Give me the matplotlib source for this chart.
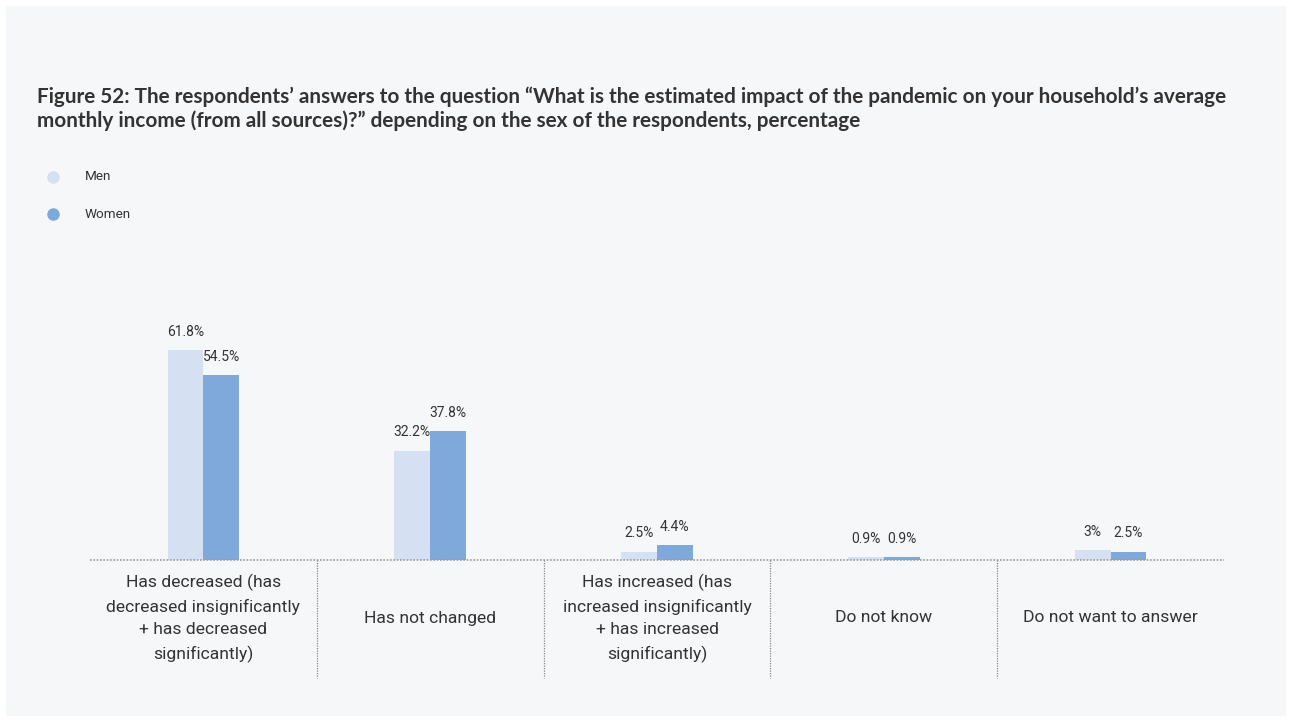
import matplotlib.pyplot as plt
from matplotlib.patches import Rectangle
from matplotlib.lines import Line2D
import matplotlib.transforms as mtransforms

categories = [
    "Has decreased (has\ndecreased insignificantly\n+ has decreased\nsignificantly)",
    "Has not changed",
    "Has increased (has\nincreased insignificantly\n+ has increased\nsignificantly)",
    "Do not know",
    "Do not want to answer",
]
men = [61.8, 32.2, 2.5, 0.9, 3.0]
women = [54.5, 37.8, 4.4, 0.9, 2.5]
men_labels = ["61.8%", "32.2%", "2.5%", "0.9%", "3%"]
women_labels = ["54.5%", "37.8%", "4.4%", "0.9%", "2.5%"]
series_names = ["Men", "Women"]

title_lines = [
    "Figure 52: The respondents\u2019 answers to the question \u201cWhat is the estimated impact of the pandemic on your household\u2019s average",
    "monthly income (from all sources)?\u201d depending on the sex of the respondents, percentage",
]

MEN_C = "#d5e0f2"
WOMEN_C = "#7fa9db"
BG = "#f6f7f9"
TXT = "#333333"
LABEL_FONT = ["Roboto", "DejaVu Sans"]

W, H = 1292, 722
fig = plt.figure(figsize=(W / 100, H / 100), dpi=100)
fig.patch.set_facecolor("white")
fig.add_artist(Rectangle((6 / W, 6 / H), (W - 12) / W, (H - 12) / H,
                         transform=fig.transFigure, facecolor=BG,
                         edgecolor="none", zorder=0))

# title: two lines, first line sized to span the panel width
renderer = fig.canvas.get_renderer()
t1 = fig.text(37 / W, 1 - 97 / H, title_lines[0], ha="left", va="center",
              fontsize=12, fontweight="bold", family=["Lato", "DejaVu Sans"], color=TXT)
w = t1.get_window_extent(renderer).width
fs = 12 * 1185 / w
t1.set_fontsize(fs)
fig.text(37 / W, 1 - 121 / H, title_lines[1], ha="left", va="center",
         fontsize=fs, fontweight="bold", family=["Lato", "DejaVu Sans"], color=TXT)

# legend
for i, (name, col) in enumerate(zip(series_names, [MEN_C, WOMEN_C])):
    y = 1 - (177 + 37 * i) / H
    fig.add_artist(Line2D([53 / W], [y], marker="o", markersize=8,
                          color=col, linestyle="none",
                          transform=fig.transFigure))
    fig.text(85 / W, y, name, ha="left", va="center", fontsize=9.7,
             family=LABEL_FONT, color=TXT)

# chart area
ax_left, ax_right = 90, 1224
base_px = 560
ymax = 70
px_per_unit = 3.40
ax_h = ymax * px_per_unit
ax = fig.add_axes([ax_left / W, (H - base_px) / H, (ax_right - ax_left) / W, ax_h / H])
ax.set_facecolor("none")
n = len(categories)
ax.set_xlim(-0.5, n - 0.5)
ax.set_ylim(0, ymax)
for s in ax.spines.values():
    s.set_visible(False)
ax.set_xticks([])
ax.set_yticks([])

bw = 0.158
xs = list(range(n))
ax.bar([x - bw / 2 for x in xs], men, width=bw, color=MEN_C, zorder=2)
ax.bar([x + bw / 2 for x in xs], women, width=bw, color=WOMEN_C, zorder=2)

for x, v, lab in zip(xs, men, men_labels):
    ax.annotate(lab, (x - bw / 2, v), xytext=(0, 8), textcoords="offset points",
                ha="center", va="bottom", fontsize=10, family=LABEL_FONT, color=TXT)
for x, v, lab in zip(xs, women, women_labels):
    ax.annotate(lab, (x + bw / 2, v), xytext=(0, 8), textcoords="offset points",
                ha="center", va="bottom", fontsize=10, family=LABEL_FONT, color=TXT)

# baseline
ax.plot([-0.5, n - 0.5], [0, 0], color="#9a9a9a", linestyle=(0, (1, 1)),
        linewidth=1.2, zorder=3, clip_on=False)

# category separators
trans = mtransforms.blended_transform_factory(ax.transData, ax.transAxes)
sep_bottom = -(678 - base_px) / ax_h
for k in range(1, n):
    ax.plot([k - 0.5, k - 0.5], [0, sep_bottom], transform=trans,
            color="#8a8a8a", linestyle=(0, (1, 1)), linewidth=0.9,
            clip_on=False, zorder=3)

label_center = -(618 - base_px) / ax_h
for x, cat in zip(xs, categories):
    ax.text(x, label_center, cat, transform=trans, ha="center", va="center",
            fontsize=12.6, family=LABEL_FONT, color=TXT, linespacing=1.62)

fig.savefig("out.png", dpi=100, facecolor=fig.get_facecolor())
